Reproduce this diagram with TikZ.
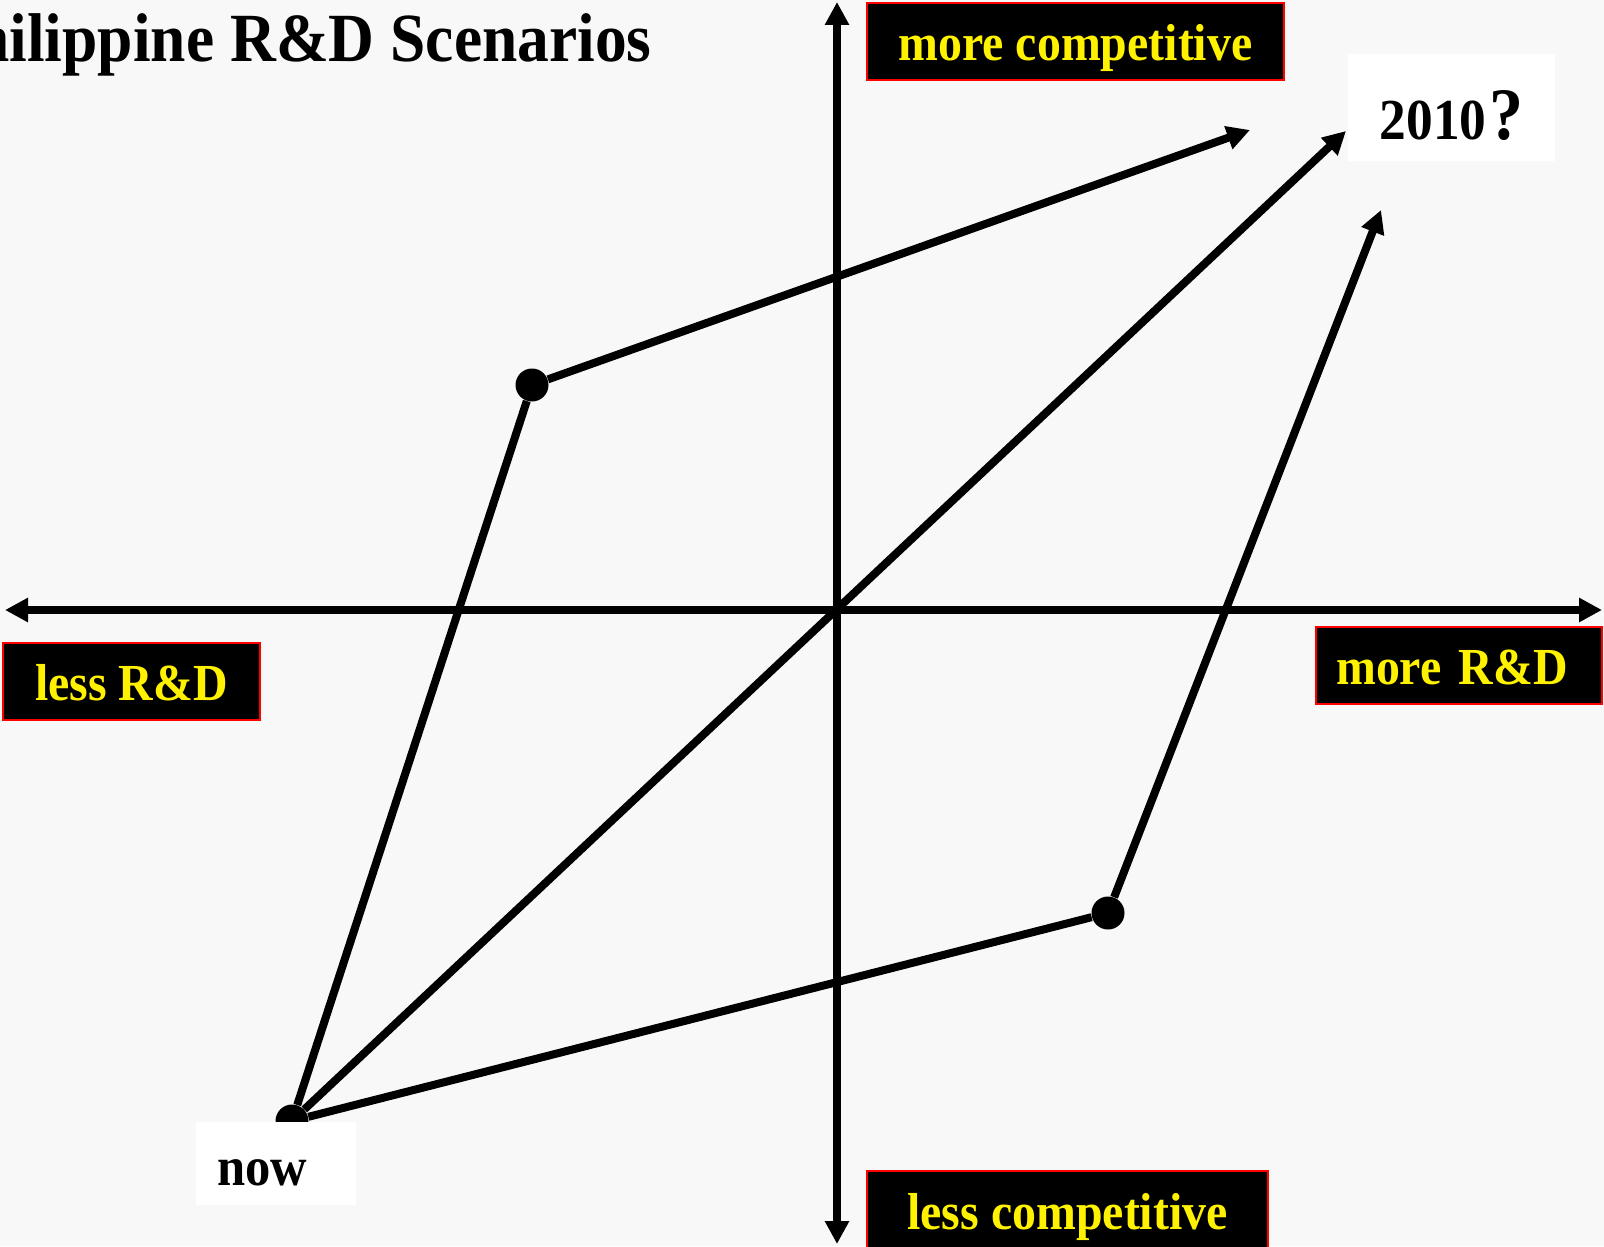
\documentclass[tikz,border=0pt]{standalone}
\usepackage{fontspec}
\setmainfont{Liberation Serif}[FakeStretch=0.92]
\usepackage{xcolor}
\usetikzlibrary{arrows.meta,positioning}
\definecolor{bgcol}{RGB}{248,248,248}

\begin{document}
\begin{tikzpicture}[
    x=0.5pt, y=-0.5pt,
    labelbox/.style={rectangle, draw=red, line width=1.2pt, fill=black, text=yellow, inner sep=0pt, font=\fontsize{26}{30}\selectfont\bfseries},
    whitebox/.style={rectangle, fill=white, inner sep=0pt, font=\fontsize{27.5}{32}\selectfont\bfseries},
    scenpt/.style={circle, fill=black, inner sep=0pt, minimum size=16.5pt},
    arrow/.style={-{Triangle[length=11.5pt,width=11.5pt]}, line width=4pt},
    axis/.style={{Triangle[length=11.5pt,width=11.5pt]}-{Triangle[length=11.5pt,width=11.5pt]}, line width=4pt}
  ]
  % page and background
  \useasboundingbox (0,0) rectangle (1604,1246);
  \fill[bgcol] (0,0) rectangle (1604,1246);

  % title (runs off the left edge)
  \node[anchor=base east, inner sep=0pt, font=\fontsize{34.5}{40}\selectfont\bfseries] (title) at (652,62) {Philippine R\&D Scenarios};

  % axes
  \coordinate (xl) at (5,610);
  \coordinate (xr) at (1602,610);
  \coordinate (yt) at (837,2);
  \coordinate (yb) at (837,1244);
  \draw[axis] (xl) -- (xr);
  \draw[axis] (yb) -- (yt);

  % axis labels
  \node[labelbox, anchor=base, text height=29pt, text depth=9.5pt, minimum width=208.5pt] (morecomp) at (1075.5,61) {more competitive};
  \node[labelbox, anchor=base, text height=29pt, text depth=16.5pt, minimum width=200.5pt] (lesscomp) at (1067.5,1229) {less competitive};
  \node[labelbox, anchor=base, text height=28.5pt, text depth=10pt, minimum width=128.5pt] (lessrd) at (131.5,700) {less R\&D};
  \node[labelbox, anchor=base west, inner xsep=10pt, text width=123pt, align=left, text height=28.5pt, text depth=10pt] (morerd) at (1315,684) {more R\&D};

  % scenario points
  \node[scenpt] (nowpt) at (292,1121) {};
  \node[scenpt] (pa) at (532,385) {};
  \node[scenpt] (pb) at (1108,913) {};
  \coordinate (ta) at (1250,130);
  \coordinate (tc) at (1346,131);
  \coordinate (tb) at (1381,210);

  % paths to 2010
  \draw[line width=4pt] (nowpt) -- (pa);
  \draw[arrow] (pa) -- (ta);
  \draw[arrow] (nowpt) -- (tc);
  \draw[line width=4pt] (nowpt) -- (pb);
  \draw[arrow] (pb) -- (tb);

  % white labels
  \node[whitebox, anchor=base, text height=43pt, text depth=10.5pt, minimum width=103.5pt] (year) at (1451.5,140) {\fontsize{29}{34}\selectfont 2010\kern1.5pt{\fontsize{37}{42}\selectfont ?}};
  \node[whitebox, anchor=base west, inner xsep=10.5pt, text width=59pt, align=left, text height=31.5pt, text depth=10pt] (nowlabel) at (196,1185) {now};
\end{tikzpicture}
\end{document}
